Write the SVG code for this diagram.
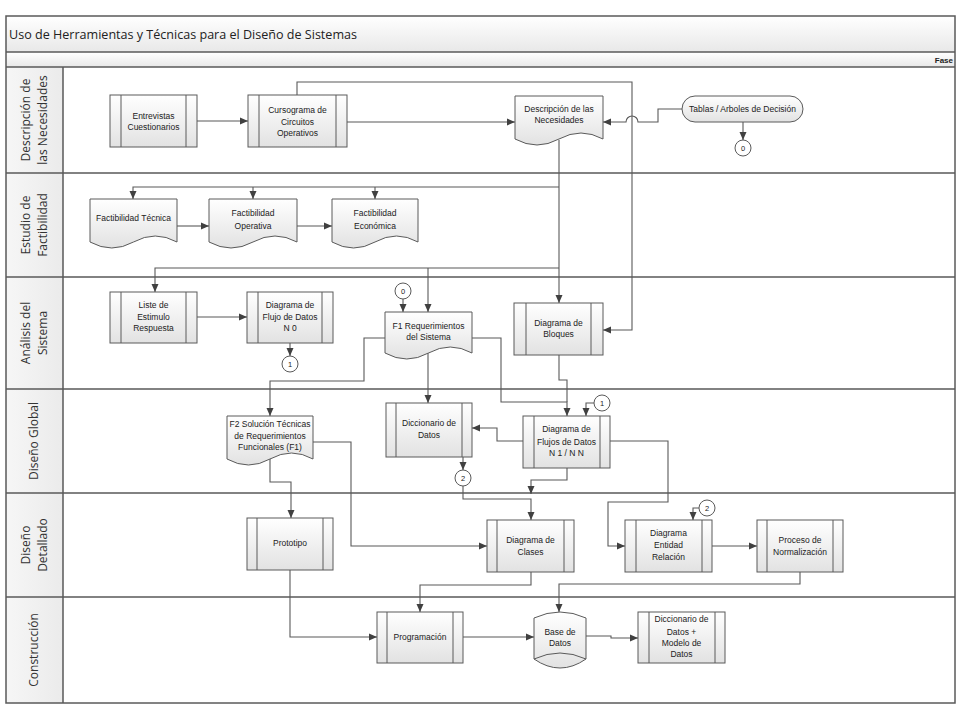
<svg xmlns="http://www.w3.org/2000/svg" width="960" height="720" viewBox="0 0 960 720">
<style>
.frame{fill:none;stroke:#5a5a5a;stroke-width:1.5}
.box{fill:url(#g);stroke:#5a5a5a;stroke-width:1}
.bar{fill:none;stroke:#5a5a5a;stroke-width:1}
.circ{fill:#fff;stroke:#5a5a5a;stroke-width:1}
.t{font-family:"Liberation Sans",Arial,sans-serif;font-size:8.5px;fill:#222;text-anchor:middle}
.ct{font-family:"Liberation Sans",Arial,sans-serif;font-size:7.5px;fill:#222;text-anchor:middle}
.lane{font-family:"Open Sans","DejaVu Sans",sans-serif;font-size:12px;fill:#333;text-anchor:middle}
.title{font-family:"Open Sans","DejaVu Sans",sans-serif;font-size:13.5px;fill:#222}
.c{fill:none;stroke:#595959;stroke-width:1.1}
.a{marker-end:url(#ar)}
</style>
<defs>
<linearGradient id="g" x1="0" y1="0" x2="0" y2="1"><stop offset="0" stop-color="#ffffff"/><stop offset="1" stop-color="#e2e2e2"/></linearGradient>
<linearGradient id="gt" x1="0" y1="0" x2="0" y2="1"><stop offset="0" stop-color="#ffffff"/><stop offset="1" stop-color="#e8e8e8"/></linearGradient>
<linearGradient id="gl" x1="0" y1="0" x2="1" y2="0"><stop offset="0" stop-color="#f6f6f6"/><stop offset="1" stop-color="#ebebeb"/></linearGradient>
<marker id="ar" viewBox="0 0 8 8" refX="8" refY="4" markerWidth="8" markerHeight="8" markerUnits="userSpaceOnUse" orient="auto"><path d="M0,0.5 L8,4 L0,7.5 z" fill="#404040"/></marker>
</defs>

<g id="frame">
<rect x="6" y="16" width="949" height="687" fill="#fff"/>
<rect x="6" y="16" width="949" height="36" fill="url(#gt)"/>
<rect x="6" y="52" width="949" height="15" fill="url(#gt)"/>
<rect x="6" y="67" width="57" height="636" fill="url(#gl)"/>
<rect x="6" y="16" width="949" height="687" class="frame"/>
<path class="frame" d="M6,52 H955 M6,67 H955 M6,173 H955 M6,277 H955 M6,389 H955 M6,493 H955 M6,597 H955 M63,67 V703"/>
<text class="title" x="9" y="39" textLength="348" lengthAdjust="spacingAndGlyphs">Uso de Herramientas y Técnicas para el Diseño de Sistemas</text>
<text x="953" y="63" font-family="Liberation Sans, Arial, sans-serif" font-size="8" font-weight="bold" fill="#222" text-anchor="end">Fase</text>
<text class="lane" transform="translate(30,120) rotate(-90)">Descripción de</text>
<text class="lane" transform="translate(47,120) rotate(-90)">las Necesidades</text>
<text class="lane" transform="translate(30,225) rotate(-90)">Estudio de</text>
<text class="lane" transform="translate(47,225) rotate(-90)">Factibilidad</text>
<text class="lane" transform="translate(30,333) rotate(-90)">Análisis del</text>
<text class="lane" transform="translate(47,333) rotate(-90)">Sistema</text>
<text class="lane" transform="translate(38,441) rotate(-90)">Diseño Global</text>
<text class="lane" transform="translate(30,545) rotate(-90)">Diseño</text>
<text class="lane" transform="translate(47,545) rotate(-90)">Detallado</text>
<text class="lane" transform="translate(38,650) rotate(-90)">Construcción</text>
</g>

<g id="connectors">
<path class="c a" d="M197,121 H248"/>
<path class="c a" d="M347,122 H515"/>
<path class="c a" d="M297,95 V82 H632 V330 H603"/>
<path class="c a" d="M682,109 H658 V122 H638 A6,6 0 0 0 626,122 H603"/>
<path class="c a" d="M743,122 V140"/>
<path class="c a" d="M559,140 V303"/>
<path class="c a" d="M559,187 H133 V199"/>
<path class="c a" d="M253,187 V199"/>
<path class="c a" d="M375,187 V199"/>
<path class="c a" d="M177,226 H209"/>
<path class="c a" d="M297,226 H332"/>
<path class="c a" d="M559,268 H155 V292"/>
<path class="c a" d="M428,268 V312"/>
<path class="c a" d="M403,299 V312"/>
<path class="c a" d="M197,317 H247"/>
<path class="c a" d="M290,343 V356"/>
<path class="c a" d="M385,338 H364 V381 H270 V416"/>
<path class="c a" d="M472,338 H501 V402 H567 V416"/>
<path class="c a" d="M428,352 V403"/>
<path class="c" d="M559,355 V380 H567 V402"/>
<path class="c a" d="M594,403 H586 V416"/>
<path class="c a" d="M523,441 H497 V428 H472"/>
<path class="c a" d="M463,457 V470"/>
<path class="c a" d="M463,486 V499 H531 V520"/>
<path class="c a" d="M567,468 V480 H531 V494"/>
<path class="c a" d="M610,441 H668 V502 H608 V546 H625"/>
<path class="c a" d="M313,442 H351 V546 H487"/>
<path class="c a" d="M270,455 V482 H291 V518"/>
<path class="c a" d="M699,508 H693 V520"/>
<path class="c a" d="M712,546 H757"/>
<path class="c a" d="M531,572 V585 H420 V612"/>
<path class="c a" d="M800,572 V584 H559 V612"/>
<path class="c a" d="M290,570 V637 H377"/>
<path class="c a" d="M463,637 H534"/>
<path class="c a" d="M586,636 H611 V638 H638"/>
</g>

<g id="n-entrevistas">
<rect class="box" x="110" y="95" width="87" height="52"/>
<path class="bar" d="M121,95 V147 M186,95 V147"/>
<text class="t" x="153.5" y="119">Entrevistas</text>
<text class="t" x="153.5" y="130">Cuestionarios</text>
</g>
<g id="n-cursograma">
<rect class="box" x="248" y="95" width="99" height="52"/>
<path class="bar" d="M259,95 V147 M336,95 V147"/>
<text class="t" x="297.5" y="113">Cursograma de</text>
<text class="t" x="297.5" y="124.5">Circuitos</text>
<text class="t" x="297.5" y="136">Operativos</text>
</g>
<g id="n-descripcion">
<path class="box" d="M515,96 H603 V139 Q581,127 559,139 T515,139 Z"/>
<text class="t" x="559" y="112">Descripción de las</text>
<text class="t" x="559" y="123">Necesidades</text>
</g>
<g id="n-tablas">
<rect class="box" x="682" y="96" width="121" height="26" rx="13"/>
<text class="t" x="742.5" y="112">Tablas / Arboles de Decisión</text>
</g>
<g id="n-conector-0a">
<circle class="circ" cx="743" cy="148" r="8"/>
<text class="ct" x="743" y="151">0</text>
</g>
<g id="n-fact-tecnica">
<path class="box" d="M90,199 H177 V242 Q155.25,230 133.5,242 T90,242 Z"/>
<text class="t" x="133.5" y="221">Factibilidad Técnica</text>
</g>
<g id="n-fact-operativa">
<path class="box" d="M209,199 H297 V242 Q275,230 253,242 T209,242 Z"/>
<text class="t" x="253" y="216">Factibilidad</text>
<text class="t" x="253" y="229">Operativa</text>
</g>
<g id="n-fact-economica">
<path class="box" d="M332,199 H418 V242 Q396.5,230 375,242 T332,242 Z"/>
<text class="t" x="375" y="216">Factibilidad</text>
<text class="t" x="375" y="229">Económica</text>
</g>
<g id="n-liste">
<rect class="box" x="110" y="292" width="87" height="51"/>
<path class="bar" d="M121,292 V343 M186,292 V343"/>
<text class="t" x="153.5" y="308">Liste de</text>
<text class="t" x="153.5" y="320">Estimulo</text>
<text class="t" x="153.5" y="331">Respuesta</text>
</g>
<g id="n-dfd0">
<rect class="box" x="247" y="292" width="86" height="51"/>
<path class="bar" d="M258,292 V343 M322,292 V343"/>
<text class="t" x="290" y="308">Diagrama de</text>
<text class="t" x="290" y="320">Flujo de Datos</text>
<text class="t" x="290" y="331">N 0</text>
</g>
<g id="n-conector-1a">
<circle class="circ" cx="290" cy="364" r="8"/>
<text class="ct" x="290" y="367">1</text>
</g>
<g id="n-conector-0b">
<circle class="circ" cx="403" cy="291" r="8"/>
<text class="ct" x="403" y="294">0</text>
</g>
<g id="n-f1">
<path class="box" d="M385,312 H472 V353 Q450.25,341 428.5,353 T385,353 Z"/>
<text class="t" x="428.5" y="329">F1 Requerimientos</text>
<text class="t" x="428.5" y="340">del Sistema</text>
</g>
<g id="n-bloques">
<rect class="box" x="514" y="303" width="89" height="52"/>
<path class="bar" d="M526,303 V355 M591,303 V355"/>
<text class="t" x="558.5" y="326">Diagrama de</text>
<text class="t" x="558.5" y="337">Bloques</text>
</g>
<g id="n-f2">
<path class="box" d="M227,416 H313 V459 Q291.5,447 270,459 T227,459 Z"/>
<text class="t" x="270" y="427">F2 Solución Técnicas</text>
<text class="t" x="270" y="439">de Requerimientos</text>
<text class="t" x="270" y="450">Funcionales (F1)</text>
</g>
<g id="n-diccionario">
<rect class="box" x="386" y="403" width="86" height="54"/>
<path class="bar" d="M396,403 V457 M462,403 V457"/>
<text class="t" x="429" y="426">Diccionario de</text>
<text class="t" x="429" y="438">Datos</text>
</g>
<g id="n-conector-2a">
<circle class="circ" cx="463" cy="478" r="8"/>
<text class="ct" x="463" y="481">2</text>
</g>
<g id="n-flujos">
<rect class="box" x="523" y="416" width="87" height="52"/>
<path class="bar" d="M534,416 V468 M600,416 V468"/>
<text class="t" x="566.5" y="432">Diagrama de</text>
<text class="t" x="566.5" y="445">Flujos de Datos</text>
<text class="t" x="566.5" y="456">N 1 / N N</text>
</g>
<g id="n-conector-1b">
<circle class="circ" cx="602" cy="403" r="8"/>
<text class="ct" x="602" y="406">1</text>
</g>
<g id="n-prototipo">
<rect class="box" x="247" y="518" width="86" height="52"/>
<path class="bar" d="M257,518 V570 M323,518 V570"/>
<text class="t" x="290" y="546">Prototipo</text>
</g>
<g id="n-clases">
<rect class="box" x="487" y="520" width="87" height="52"/>
<path class="bar" d="M497,520 V572 M564,520 V572"/>
<text class="t" x="530.5" y="543">Diagrama de</text>
<text class="t" x="530.5" y="555">Clases</text>
</g>
<g id="n-entidad-relacion">
<rect class="box" x="625" y="520" width="87" height="52"/>
<path class="bar" d="M636,520 V572 M702,520 V572"/>
<text class="t" x="668.5" y="536">Diagrama</text>
<text class="t" x="668.5" y="548">Entidad</text>
<text class="t" x="668.5" y="560">Relación</text>
</g>
<g id="n-conector-2b">
<circle class="circ" cx="707" cy="508" r="8"/>
<text class="ct" x="707" y="511">2</text>
</g>
<g id="n-normalizacion">
<rect class="box" x="757" y="520" width="86" height="52"/>
<path class="bar" d="M767,520 V572 M833,520 V572"/>
<text class="t" x="800" y="543">Proceso de</text>
<text class="t" x="800" y="555">Normalización</text>
</g>
<g id="n-programacion">
<rect class="box" x="377" y="612" width="86" height="51"/>
<path class="bar" d="M387,612 V663 M453,612 V663"/>
<text class="t" x="420" y="640">Programación</text>
</g>
<g id="n-base-datos">
<path class="box" d="M534,618 Q560,606 586,618 V659 Q560,677 534,659 Z"/>
<path class="bar" d="M534,659 Q560,647 586,659"/>
<text class="t" x="560" y="635">Base de</text>
<text class="t" x="560" y="646">Datos</text>
</g>
<g id="n-dicc-modelo">
<rect class="box" x="638" y="612" width="87" height="51"/>
<path class="bar" d="M649,612 V663 M715,612 V663"/>
<text class="t" x="681.5" y="622">Diccionario de</text>
<text class="t" x="681.5" y="635">Datos +</text>
<text class="t" x="681.5" y="646">Modelo de</text>
<text class="t" x="681.5" y="657">Datos</text>
</g>
</svg>
